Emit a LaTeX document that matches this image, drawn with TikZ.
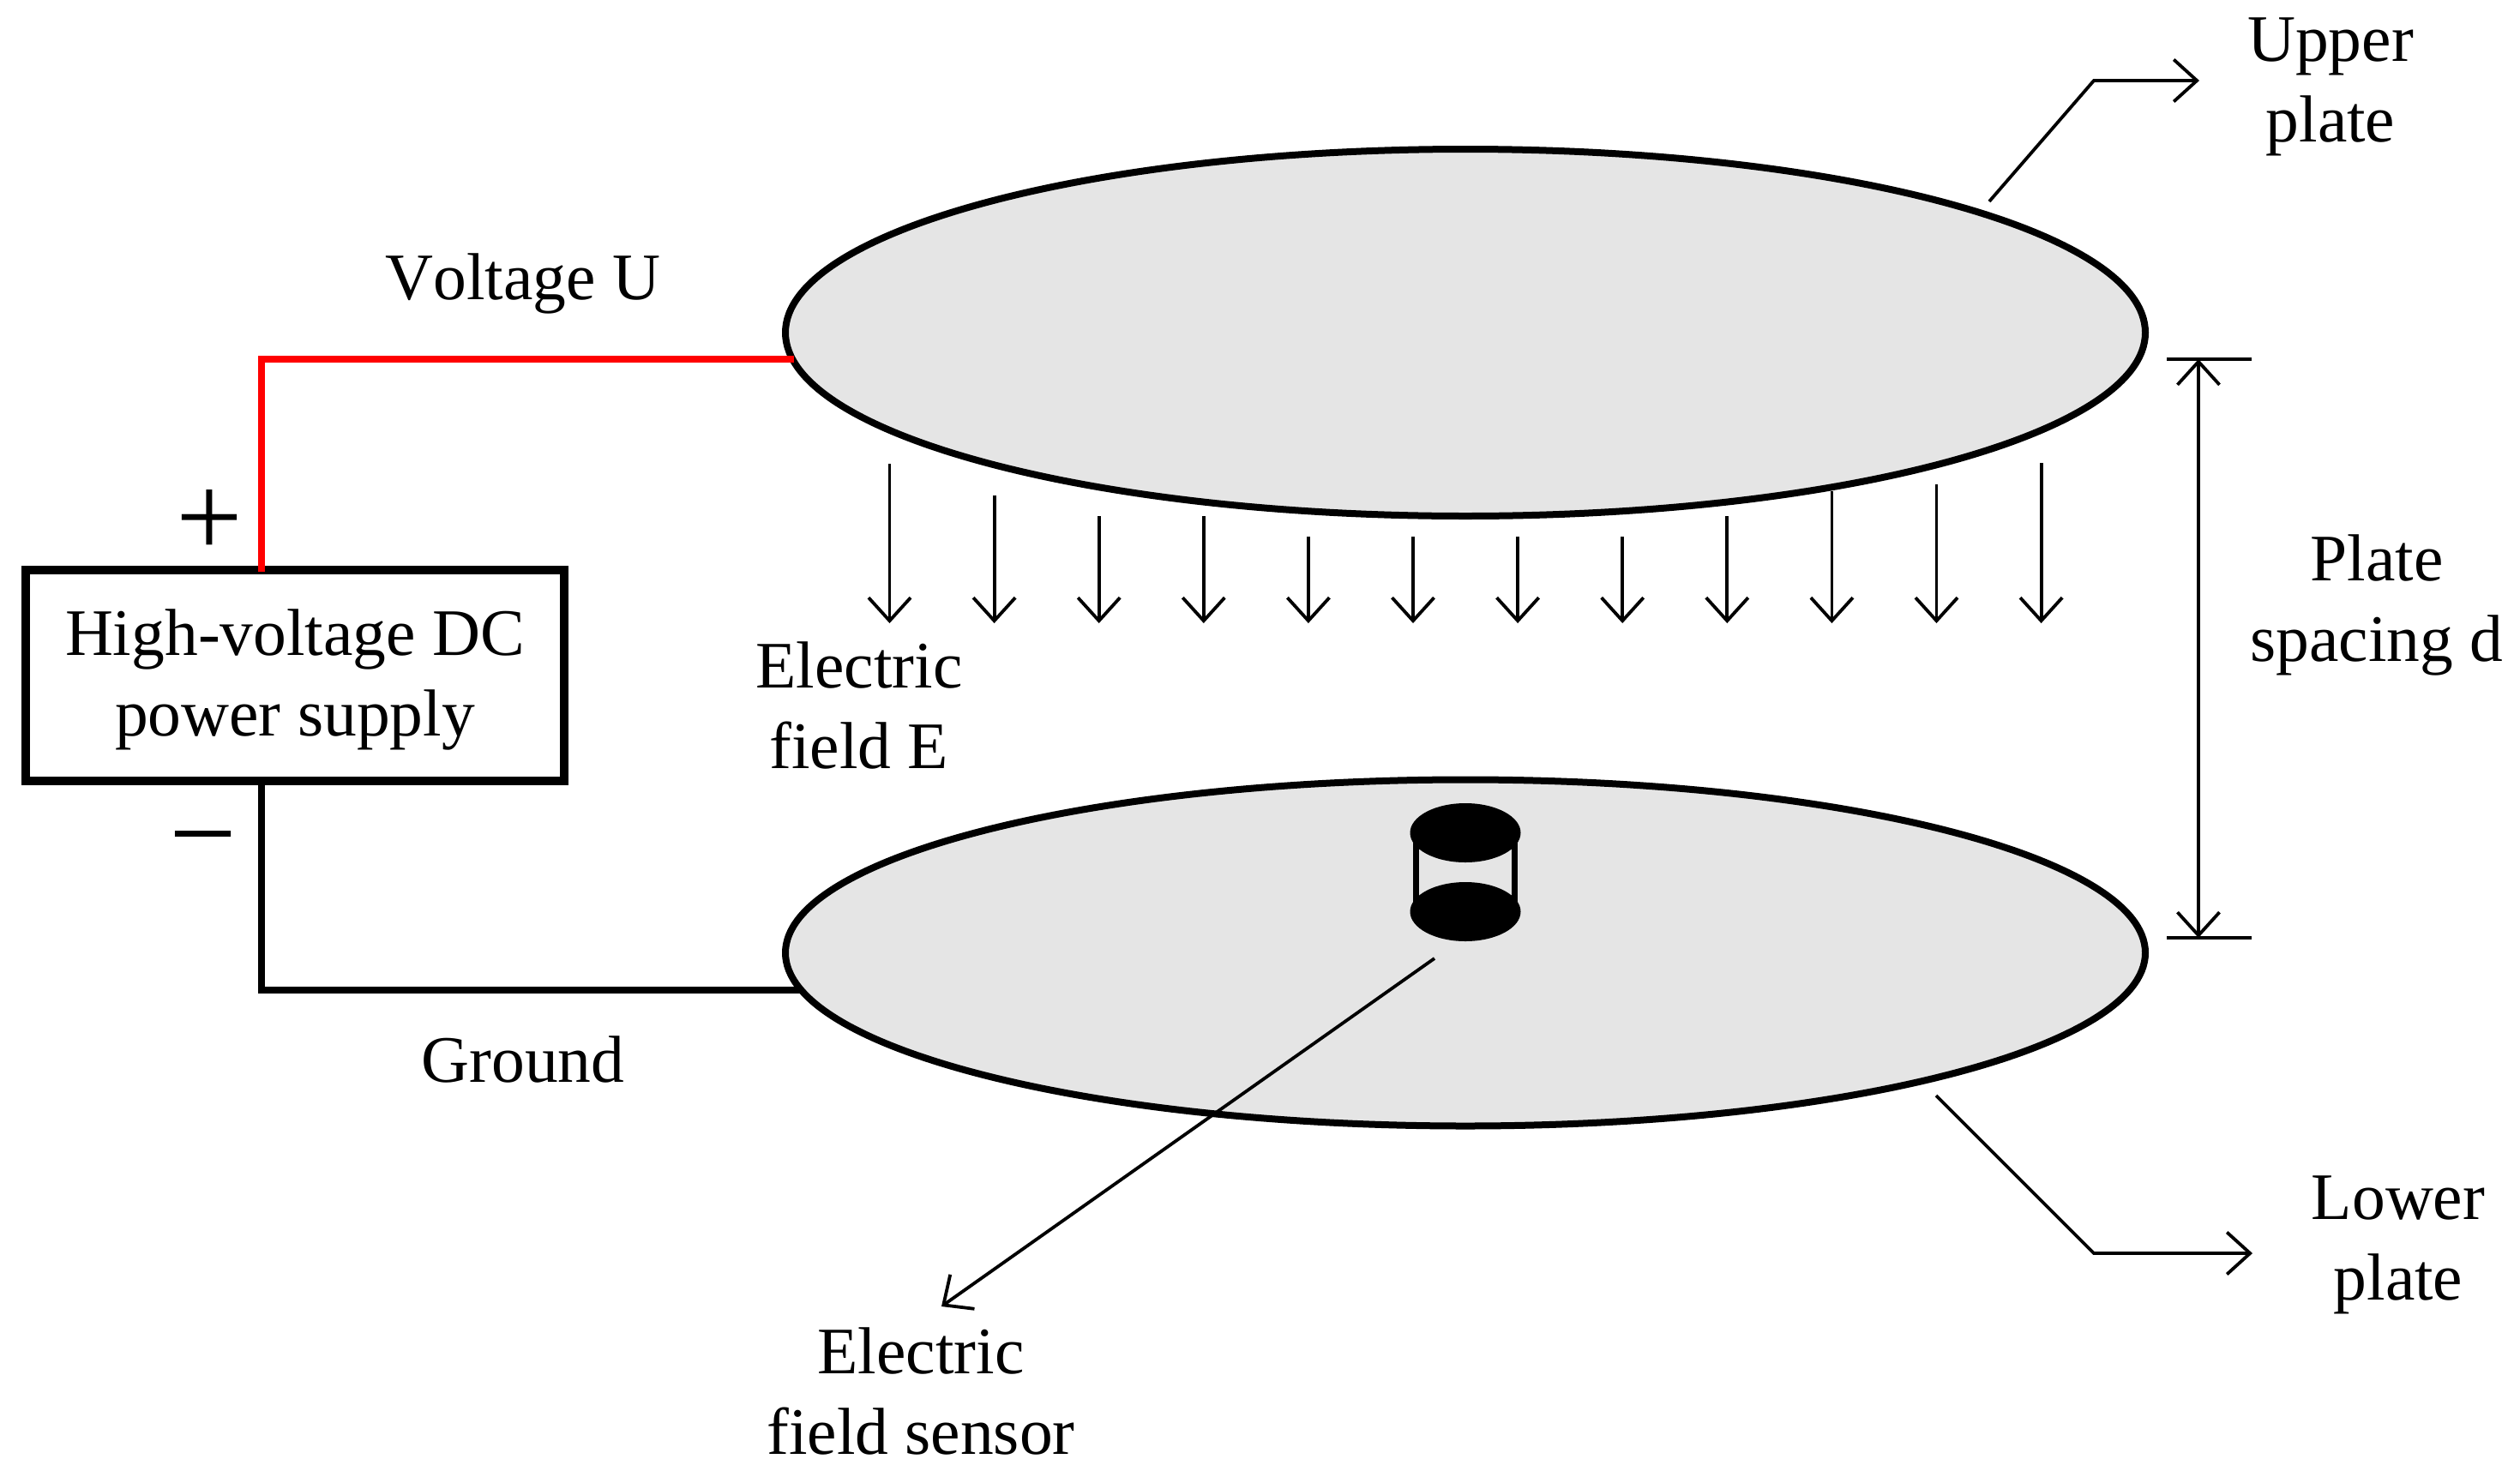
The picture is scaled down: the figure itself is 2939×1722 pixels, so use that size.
\documentclass[tikz,border=0pt]{standalone}
\usepackage{fontspec}
\setmainfont[Kerning=Off]{Liberation Serif}
\usetikzlibrary{arrows.meta,shapes.geometric}
\definecolor{plategray}{RGB}{229,229,229}
\tikzset{
  x=1pt,y=-1pt,
  plate/.style={ellipse,draw=black,fill=plategray,line width=8pt,inner sep=0pt,minimum width=1586pt},
  sensorcap/.style={ellipse,draw=none,fill=black,inner sep=0pt,outer sep=0pt,minimum width=129pt,minimum height=69pt},
  lbl/.style={font=\fontsize{77.5}{94}\selectfont,align=center,inner sep=0pt},
  thin line/.style={line width=3.8pt},
  barb/.style={-{Straight Barb[length=27pt,width=49pt,line width=3.8pt]}},
  wire/.style={line width=7.5pt,line join=miter}
}
\begin{document}
\begin{tikzpicture}
\useasboundingbox (0,0) rectangle (2939,1722);
\fill[white] (0,0) rectangle (2939,1722);
% wires below plates
\coordinate (cNeg) at (305,911);
\coordinate (cCorner2) at (305,1155);
\coordinate (cLowEnd) at (935,1155);
\draw[wire,black] (cNeg) -- (cCorner2) -- (cLowEnd);
% plates
\node[plate,minimum height=428pt] (upper) at (1709,388) {};
\node[plate,minimum height=404pt] (lower) at (1709,1111.5) {};
% supply
\node[draw=black,line width=10pt,fill=white,minimum width=628pt,minimum height=246pt,inner sep=0pt,outer sep=0pt,anchor=north west] (psu) at (30,665) {};
\node[lbl] (psuText) at (344,793) {High-voltage DC\\power supply};
% red wire
\coordinate (cPos) at (305,667);
\coordinate (cCorner1) at (305,419);
\coordinate (cUpEnd) at (926,419);
\draw[wire,red] (cPos) -- (cCorner1) -- (cUpEnd);
% sensor
\coordinate (sL1) at (1651,972); \coordinate (sL2) at (1651,1064);
\coordinate (sR1) at (1766,972); \coordinate (sR2) at (1766,1064);
\draw[line width=7pt] (sL1) -- (sL2) (sR1) -- (sR2);
\node[sensorcap] (capTop) at (1709,971.5) {};
\node[sensorcap] (capBot) at (1709,1063.5) {};
% field arrows
\foreach \i/\ys in {0/541,1/578,2/602,3/602,4/626,5/626,6/626,7/626,8/602,9/573,10/565,11/540}{
  \coordinate (fs\i) at ({1037.5+122.1*\i},\ys);
  \coordinate (fe\i) at ({1037.5+122.1*\i},727);
  \draw[thin line,barb] (fs\i) -- (fe\i);
}
% upper leader
\coordinate (u1) at (2320,235); \coordinate (u2) at (2442,94); \coordinate (u3) at (2565,94);
\draw[thin line,barb] (u1) -- (u2) -- (u3);
% lower leader
\coordinate (l1) at (2258,1278); \coordinate (l2) at (2442,1462); \coordinate (l3) at (2627,1462);
\draw[thin line,barb] (l1) -- (l2) -- (l3);
% spacing
\coordinate (d1) at (2564,419); \coordinate (d2) at (2564,1094);
\draw[thin line,{Straight Barb[length=27pt,width=49pt,line width=3.8pt]}-{Straight Barb[length=27pt,width=49pt,line width=3.8pt]}] (d1) -- (d2);
\coordinate (t1a) at (2527,419); \coordinate (t1b) at (2626,419);
\coordinate (t2a) at (2527,1094); \coordinate (t2b) at (2626,1094);
\draw[thin line] (t1a) -- (t1b) (t2a) -- (t2b);
% sensor leader
\coordinate (s1) at (1673,1118); \coordinate (s2) at (1098,1524);
\draw[thin line,barb] (s1) -- (s2);
% labels
\node[inner sep=0pt,font=\fontsize{138}{138}\selectfont] (plus) at (244,611) {+};
\node[inner sep=0pt,font=\fontsize{140}{140}\selectfont] (minus) at (237,994) {−};
\node[lbl] (tU) at (610,331) {Voltage U};
\node[lbl] (tG) at (610,1236) {Ground};
\node[lbl] (tE) at (1002,823) {Electric\\field E};
\node[lbl] (tUp) at (2718,101) {Upper\\plate};
\node[lbl] (tD) at (2772,706) {Plate\\spacing d};
\node[lbl] (tLo) at (2797,1452) {Lower\\plate};
\node[lbl] (tS) at (1074,1623) {Electric\\field sensor};
\end{tikzpicture}
\end{document}
